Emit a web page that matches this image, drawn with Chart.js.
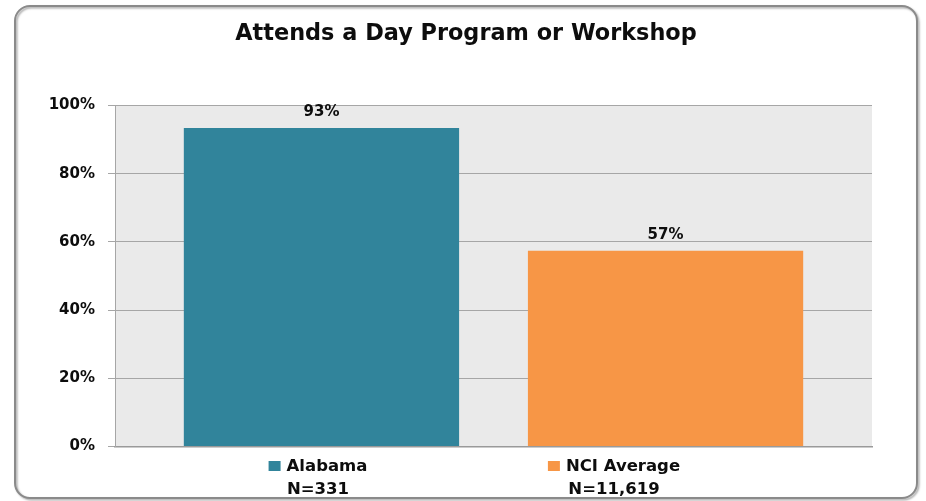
<!DOCTYPE html>
<html>
<head>
<meta charset="utf-8">
<script src="https://cdn.jsdelivr.net/npm/chart.js@4/dist/chart.umd.min.js"></script>
<style>
  html, body { margin: 0; padding: 0; background: #ffffff; }
  #wrap { position: relative; width: 926px; height: 501px; }
</style>
</head>
<body>
<div id="wrap"><canvas id="dayProgram"></canvas></div>
<script>
// Chart data
const categories = ['Alabama', 'NCI Average'];
const sampleSizes = ['N=331', 'N=11,619'];
const percentValues = [93.4, 57.4];
const barColors = ['#31849B', '#F79646'];
const yTickValues = [0, 20, 40, 60, 80, 100];

const FONT = "'DejaVu Sans', sans-serif";
const TEXT = '#0d0d0d';
const FRAME = { x: 15, y: 6, w: 902, h: 492, r: 15 };
// bottom legend, two even slots centred under the frame
const LEGEND = { slot: 296, base1: 24.5, lineGap: 23, keyW: 12, keyH: 10, keyGap: 6, size: 16.5 };

// Rounded frame round the whole chart and grey plot background
const framePlugin = {
    id: 'frame',
    beforeDraw(chart) {
        const ctx = chart.ctx;
        const area = chart.chartArea;
        ctx.save();
        ctx.shadowColor = 'rgba(0,0,0,0.35)';
        ctx.shadowOffsetX = 1.5;
        ctx.shadowOffsetY = 1.5;
        ctx.shadowBlur = 2;
        ctx.strokeStyle = '#8a8a8a';
        ctx.lineWidth = 2;
        ctx.beginPath();
        ctx.roundRect(FRAME.x, FRAME.y, FRAME.w, FRAME.h, FRAME.r);
        ctx.stroke();
        ctx.restore();

        ctx.save();
        ctx.fillStyle = '#EAEAEA';
        ctx.fillRect(area.left, area.top, area.right - area.left, area.bottom - area.top);
        ctx.restore();
    }
};

// Percent labels above the bars, legend with N under the plot
const labelPlugin = {
    id: 'barLabels',
    afterDatasetsDraw(chart) {
        const ctx = chart.ctx;
        const meta = chart.getDatasetMeta(0);
        ctx.save();
        ctx.font = 'bold 15px ' + FONT;
        ctx.fillStyle = TEXT;
        ctx.textAlign = 'center';
        ctx.textBaseline = 'alphabetic';
        meta.data.forEach((bar, i) => {
            ctx.fillText(Math.round(percentValues[i]) + '%', bar.x, bar.y - 12);
        });
        ctx.restore();
    },
    afterDraw(chart) {
        const ctx = chart.ctx;
        const bottom = chart.chartArea.bottom;
        const mid = FRAME.x + FRAME.w / 2;
        const y1 = bottom + LEGEND.base1;
        const y2 = y1 + LEGEND.lineGap;
        ctx.save();
        ctx.font = 'bold ' + LEGEND.size + 'px ' + FONT;
        ctx.textBaseline = 'alphabetic';
        categories.forEach((c, i) => {
            const cx = mid + (i - (categories.length - 1) / 2) * LEGEND.slot;
            const tw = ctx.measureText(c).width;
            const start = cx - (LEGEND.keyW + LEGEND.keyGap + tw) / 2;
            ctx.fillStyle = barColors[i];
            ctx.fillRect(start, y1 - LEGEND.keyH, LEGEND.keyW, LEGEND.keyH);
            ctx.fillStyle = TEXT;
            ctx.textAlign = 'left';
            ctx.fillText(c, start + LEGEND.keyW + LEGEND.keyGap, y1);
            ctx.textAlign = 'center';
            ctx.fillText(sampleSizes[i], cx, y2);
        });
        ctx.restore();
    }
};

const ctx = document.getElementById('dayProgram');

new Chart(ctx, {
    type: 'bar',
    data: {
        datasets: [{
            label: 'Attends a Day Program or Workshop',
            data: percentValues.map((v, i) => ({ x: i, y: v })),
            backgroundColor: barColors,
            borderWidth: 0,
            categoryPercentage: 1,
            barPercentage: 0.8
        }]
    },
    options: {
        responsive: true,
        maintainAspectRatio: false,
        animation: false,
        layout: { padding: { top: 0, right: 0, bottom: 0, left: 6 } },
        plugins: {
            legend: { display: false },
            tooltip: { enabled: false },
            title: {
                display: true,
                text: 'Attends a Day Program or Workshop',
                color: TEXT,
                font: { family: FONT, size: 22.4, weight: 'bold', lineHeight: 1.2 },
                padding: { top: 21, bottom: 57.6 }
            }
        },
        scales: {
            x: {
                type: 'linear',
                min: -0.6,
                max: 1.6,
                offset: false,
                afterBuildTicks: (scale) => {
                    scale.ticks = categories.map((c, i) => ({ value: i }));
                },
                afterFit: (scale) => { scale.height = 54.5; },
                grid: { display: false, drawTicks: false },
                border: { display: true, color: '#9a9a9a', width: 1.5 },
                ticks: { display: false }
            },
            y: {
                min: 0,
                max: 100,
                afterBuildTicks: (scale) => {
                    scale.ticks = yTickValues.map(v => ({ value: v }));
                },
                afterFit: (scale) => { scale.width = 109; },
                grid: { color: '#a6a6a6', lineWidth: 1, drawTicks: true, tickLength: 7 },
                border: { display: true, color: '#a6a6a6', width: 1 },
                ticks: {
                    padding: 13,
                    color: TEXT,
                    font: { family: FONT, size: 15, weight: 'bold' },
                    callback: (value) => value + '%'
                }
            },
            // empty right margin inside the frame
            yRight: {
                type: 'linear',
                position: 'right',
                afterFit: (scale) => { scale.width = 54; },
                grid: { display: false, drawTicks: false },
                border: { display: false },
                ticks: { display: false }
            }
        }
    },
    plugins: [framePlugin, labelPlugin]
});
</script>
</body>
</html>
